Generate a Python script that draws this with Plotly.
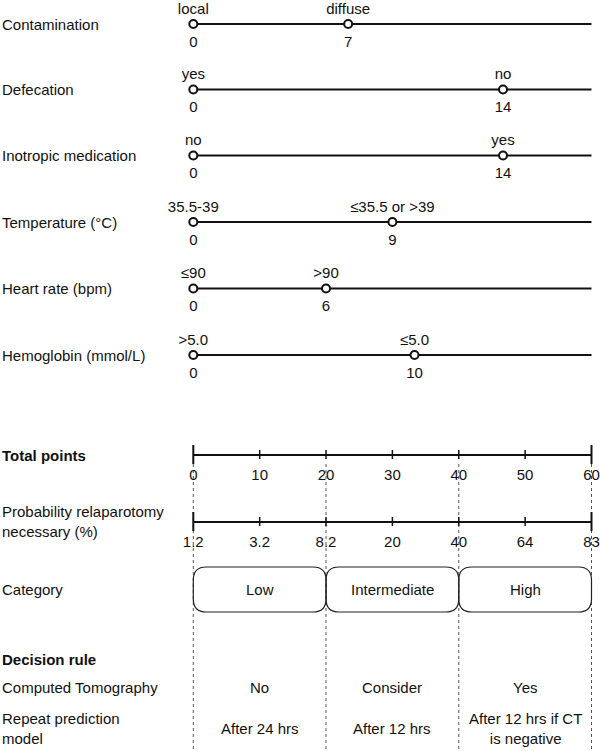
import plotly.graph_objects as go

# ---------------- data ----------------
variables = ["Contamination", "Defecation", "Inotropic medication",
             "Temperature (°C)", "Heart rate (bpm)", "Hemoglobin (mmol/L)"]
level_names = [["local", "diffuse"], ["yes", "no"], ["no", "yes"],
               ["35.5-39", "≤35.5 or >39"], ["≤90", ">90"], [">5.0", "≤5.0"]]
level_points = [[0, 7], [0, 14], [0, 14], [0, 9], [0, 6], [0, 10]]
variable_scale_max = 18          # points covered by a full-length variable line

total_ticks = [0, 10, 20, 30, 40, 50, 60]
total_labels = ["0", "10", "20", "30", "40", "50", "60"]
prob_labels = ["1.2", "3.2", "8.2", "20", "40", "64", "83"]

categories = ["Low", "Intermediate", "High"]
category_bounds = [0, 20, 40, 60]
ct_rule = ["No", "Consider", "Yes"]
repeat_rule = ["After 24 hrs", "After 12 hrs", "After 12 hrs if CT<br>is negative"]

# ---------------- layout constants (pixels on a 751-high canvas) ----------------
W, H = 600, 751
X0_PX, X60_PX = 193.3, 591.5
row_y = [24, 89.5, 155.5, 222, 288.5, 355]
total_y, prob_y = 455, 522
cat_top, cat_bot = 567, 612
decision_y, ct_y, repeat_y = 659, 687, 728

FONT = "Liberation Sans, Arial, sans-serif"
FS = 15
BLACK = "#111111"

scale_tot = (X60_PX - X0_PX) / total_ticks[-1]
xr_tot = [-X0_PX / scale_tot, (W - X0_PX) / scale_tot]
scale_var = (X60_PX - X0_PX) / variable_scale_max
xr_var = [-X0_PX / scale_var, (W - X0_PX) / scale_var]

fig = go.Figure()

# ---------------- variable rows ----------------
for i, (name, lv, pts) in enumerate(zip(variables, level_names, level_points)):
    y = row_y[i]
    fig.add_trace(go.Scatter(x=[0, variable_scale_max], y=[y, y], mode="lines",
                             line=dict(color=BLACK, width=2), xaxis="x2",
                             hoverinfo="skip", showlegend=False))
    fig.add_trace(go.Scatter(x=pts, y=[y] * len(pts), mode="markers",
                             marker=dict(size=8, color="white",
                                         line=dict(color=BLACK, width=2)),
                             xaxis="x2", hoverinfo="skip", showlegend=False,
                             cliponaxis=False))
    fig.add_trace(go.Scatter(x=pts, y=[y - 14] * len(pts), mode="text", text=lv,
                             textposition="middle center",
                             textfont=dict(family=FONT, size=FS, color=BLACK),
                             xaxis="x2", hoverinfo="skip", showlegend=False,
                             cliponaxis=False))
    fig.add_trace(go.Scatter(x=pts, y=[y + 19] * len(pts), mode="text",
                             text=[str(p) for p in pts],
                             textposition="middle center",
                             textfont=dict(family=FONT, size=FS, color=BLACK),
                             xaxis="x2", hoverinfo="skip", showlegend=False,
                             cliponaxis=False))
    fig.add_annotation(x=0, xref="paper", y=y, yref="y", text=name, showarrow=False,
                       xanchor="left", yanchor="middle",
                       font=dict(family=FONT, size=FS, color=BLACK))

# ---------------- dotted guide lines ----------------
for b in category_bounds:
    fig.add_trace(go.Scatter(x=[b, b], y=[total_y + 9, H], mode="lines",
                             line=dict(color="#555555", width=1, dash="dot"),
                             hoverinfo="skip", showlegend=False))


# ---------------- scale axes (total points, probability) ----------------
def draw_axis(yc, labels):
    fig.add_trace(go.Scatter(x=[total_ticks[0], total_ticks[-1]], y=[yc, yc],
                             mode="lines", line=dict(color=BLACK, width=2),
                             hoverinfo="skip", showlegend=False))
    for k, t in enumerate(total_ticks):
        end = k in (0, len(total_ticks) - 1)
        up, dn = (10, 9) if end else (5, 4)
        fig.add_trace(go.Scatter(x=[t, t], y=[yc - up, yc + dn], mode="lines",
                                 line=dict(color=BLACK, width=2 if end else 1.5),
                                 hoverinfo="skip", showlegend=False))
    fig.add_trace(go.Scatter(x=total_ticks, y=[yc + 21] * len(total_ticks),
                             mode="text", text=labels, textposition="middle center",
                             textfont=dict(family=FONT, size=FS, color=BLACK),
                             hoverinfo="skip", showlegend=False, cliponaxis=False))


draw_axis(total_y, total_labels)
draw_axis(prob_y, prob_labels)

fig.add_annotation(x=0, xref="paper", y=total_y, yref="y", text="<b>Total points</b>",
                   showarrow=False, xanchor="left", yanchor="middle",
                   font=dict(family=FONT, size=FS, color=BLACK))
fig.add_annotation(x=0, xref="paper", y=prob_y - 1, yref="y",
                   text="Probability relaparotomy<br>necessary (%)",
                   showarrow=False, xanchor="left", yanchor="middle", align="left",
                   font=dict(family=FONT, size=FS, color=BLACK))

# ---------------- category boxes ----------------
r_px = 13
rx = r_px / scale_tot
for k, cat in enumerate(categories):
    a, b = category_bounds[k], category_bounds[k + 1]
    t, btm = cat_top, cat_bot
    path = (f"M {a + rx},{t} L {b - rx},{t} Q {b},{t} {b},{t + r_px} "
            f"L {b},{btm - r_px} Q {b},{btm} {b - rx},{btm} "
            f"L {a + rx},{btm} Q {a},{btm} {a},{btm - r_px} "
            f"L {a},{t + r_px} Q {a},{t} {a + rx},{t} Z")
    fig.add_shape(type="path", path=path, xref="x", yref="y",
                  line=dict(color="#222222", width=1.2), fillcolor="rgba(0,0,0,0)")
    fig.add_annotation(x=(a + b) / 2, y=(t + btm) / 2, xref="x", yref="y", text=cat,
                       showarrow=False, font=dict(family=FONT, size=FS, color=BLACK))

fig.add_annotation(x=0, xref="paper", y=(cat_top + cat_bot) / 2, yref="y",
                   text="Category", showarrow=False, xanchor="left", yanchor="middle",
                   font=dict(family=FONT, size=FS, color=BLACK))

# ---------------- decision rule ----------------
fig.add_annotation(x=0, xref="paper", y=decision_y, yref="y", text="<b>Decision rule</b>",
                   showarrow=False, xanchor="left", yanchor="middle",
                   font=dict(family=FONT, size=FS, color=BLACK))
fig.add_annotation(x=0, xref="paper", y=ct_y, yref="y", text="Computed Tomography",
                   showarrow=False, xanchor="left", yanchor="middle",
                   font=dict(family=FONT, size=FS, color=BLACK))
fig.add_annotation(x=0, xref="paper", y=repeat_y, yref="y",
                   text="Repeat prediction<br>model", align="left",
                   showarrow=False, xanchor="left", yanchor="middle",
                   font=dict(family=FONT, size=FS, color=BLACK))
for k in range(len(categories)):
    mid = (category_bounds[k] + category_bounds[k + 1]) / 2
    fig.add_annotation(x=mid, y=ct_y, xref="x", yref="y", text=ct_rule[k],
                       showarrow=False, font=dict(family=FONT, size=FS, color=BLACK))
    fig.add_annotation(x=mid, y=repeat_y, xref="x", yref="y", text=repeat_rule[k],
                       showarrow=False, align="center",
                       font=dict(family=FONT, size=FS, color=BLACK))

fig.update_layout(
    width=W, height=H, margin=dict(l=0, r=0, t=0, b=0),
    paper_bgcolor="white", plot_bgcolor="white", showlegend=False,
    xaxis=dict(range=xr_tot, visible=False, fixedrange=True),
    xaxis2=dict(range=xr_var, visible=False, overlaying="x", fixedrange=True),
    yaxis=dict(range=[H, 0], visible=False, fixedrange=True),
)
fig.write_html(
    "out.html",
    config={"displayModeBar": False},
    post_script="document.body.style.margin='0';document.body.style.overflow='hidden';",
)
